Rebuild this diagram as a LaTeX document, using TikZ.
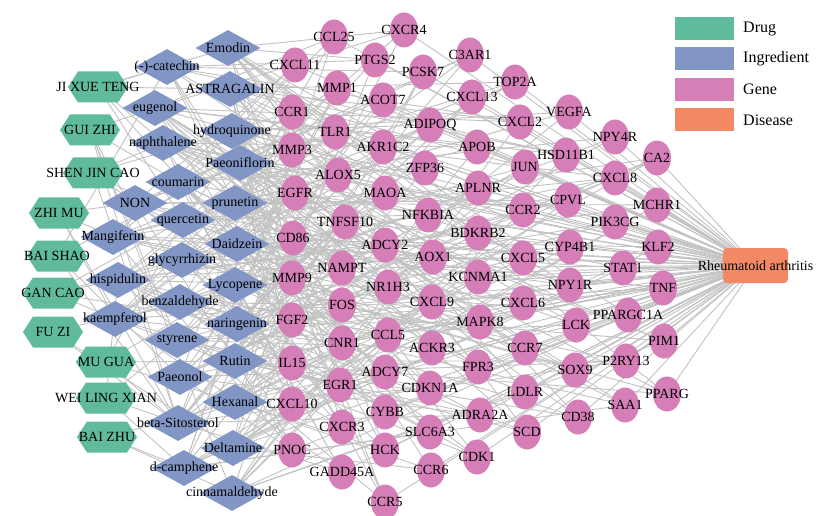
\documentclass[tikz,border=0pt]{standalone}
\usepackage{fontspec}
\setmainfont{Liberation Serif}
\usetikzlibrary{shapes.geometric,backgrounds}
\definecolor{drugc}{HTML}{5FBB9C}
\definecolor{ingc}{HTML}{8196C4}
\definecolor{genec}{HTML}{D57EB7}
\definecolor{disc}{HTML}{F38865}
\definecolor{edgec}{HTML}{C2C2C2}
\newcommand\nodefont{\fontsize{14}{16}\selectfont}
\newcommand\legfont{\fontsize{16}{18}\selectfont}

\begin{document}
\begin{tikzpicture}[x=1pt,y=-1pt,
  every label/.style={font=\nodefont, inner sep=0pt, text=black},
  drug/.style={minimum width=60pt, minimum height=31pt, inner sep=0pt,
    path picture={\fill[drugc] (path picture bounding box.west)
      -- ([xshift=10pt]path picture bounding box.north west)
      -- ([xshift=-10pt]path picture bounding box.north east)
      -- (path picture bounding box.east)
      -- ([xshift=-10pt]path picture bounding box.south east)
      -- ([xshift=10pt]path picture bounding box.south west) -- cycle;}},
  ingr/.style={diamond, fill=ingc, minimum width=65pt, minimum height=36pt, inner sep=0pt},
  gene/.style={ellipse, fill=genec, minimum width=28pt, minimum height=35pt, inner sep=0pt},
  dis/.style={rectangle, rounded corners=4pt, fill=disc, minimum width=65pt, minimum height=35pt, inner sep=0pt},
  legbox/.style={rectangle, minimum width=59pt, minimum height=23pt, inner sep=0pt},
  legtext/.style={font=\legfont, anchor=west, inner sep=0pt},
  link/.style={draw=edgec, line width=0.9pt},
]
\useasboundingbox (0,0) rectangle (817,516);

% herbs
\foreach \n/\x/\y/\t in {
  d1/98/87/JI XUE TENG, d2/90/130/GUI ZHI, d3/93/173/SHEN JIN CAO,
  d4/59/213/ZHI MU, d5/57/256/BAI SHAO, d6/53/293/GAN CAO,
  d7/53/332/FU ZI, d8/106/362/MU GUA, d9/106/398/WEI LING XIAN,
  d10/107/437/BAI ZHU}
  \node[drug, label={center:\t}] (\n) at (\x,\y) {};

% active ingredients
\foreach \n/\x/\y/\t in {
  i1/228/48/Emodin, i2/167/67/{(-)-catechin}, i3/230/89/ASTRAGALIN,
  i4/155/108/eugenol, i5/232/131/hydroquinone, i6/163/143/naphthalene,
  i7/240/163/Paeoniflorin, i8/178/182/coumarin, i9/135/203/NON,
  i10/235/203/prunetin, i11/183/220/quercetin, i12/113/237/Mangiferin,
  i13/237/244/Daidzein, i14/182/260/glycyrrhizin, i15/118/280/hispidulin,
  i16/235/285/Lycopene, i17/180/302/benzaldehyde, i18/115/319/kaempferol,
  i19/237/324/naringenin, i20/177/340/styrene, i21/235/361/Rutin,
  i22/180/377/Paeonol, i23/235/402/Hexanal, i24/178/423/beta-Sitosterol,
  i25/233/448/Deltamine, i26/184/468/d-camphene, i27/232/493/cinnamaldehyde}
  \node[ingr, label={center:\t}] (\n) at (\x,\y) {};

% target genes
\foreach \n/\x/\y/\t in {
  g1/334/37/CCL25, g2/404/30/CXCR4, g3/295/65/CXCL11, g4/375/60/PTGS2,
  g5/470/55/C3AR1, g6/337/88/MMP1, g7/423/72/PCSK7, g8/515/82/TOP2A,
  g9/292/112/CCR1, g10/383/100/ACOT7, g11/472/97/CXCL13, g12/520/122/CXCL2,
  g13/430/125/ADIPOQ, g14/335/132/TLR1, g15/292/150/MMP3, g16/383/147/AKR1C2,
  g17/477/147/APOB, g18/525/167/JUN, g19/425/168/ZFP36, g20/338/175/ALOX5,
  g21/295/193/EGFR, g22/385/193/MAOA, g23/478/188/APLNR, g24/523/210/CCR2,
  g25/428/215/NFKBIA, g26/345/222/TNFSF10, g27/478/233/BDKRB2, g28/293/238/CD86,
  g29/385/245/ADCY2, g30/433/257/AOX1, g31/523/258/CXCL5, g32/342/268/NAMPT,
  g33/292/278/MMP9, g34/478/277/KCNMA1, g35/388/287/NR1H3, g36/432/302/CXCL9,
  g37/342/305/FOS, g38/523/303/CXCL6, g39/292/320/FGF2, g40/480/322/MAPK8,
  g41/342/343/CNR1, g42/388/335/CCL5, g43/432/348/ACKR3, g44/525/348/CCR7,
  g45/292/363/IL15, g46/385/372/ADCY7, g47/478/367/FPR3, g48/340/385/EGR1,
  g49/430/388/CDKN1A, g50/525/392/LDLR, g51/292/404/CXCL10, g52/385/412/CYBB,
  g53/480/415/ADRA2A, g54/342/427/CXCR3, g55/430/432/SLC6A3, g56/527/432/SCD,
  g57/292/450/PNOC, g58/385/450/HCK, g59/477/457/CDK1, g60/342/472/GADD45A,
  g61/431/470/CCR6, g62/385/502/CCR5, g63/569/112/VEGFA, g64/615/137/NPY4R,
  g65/657/158/CA2, g66/566/155/HSD11B1, g67/615/178/CXCL8, g68/568/200/CPVL,
  g69/657/205/MCHR1, g70/615/222/PIK3CG, g71/658/247/KLF2, g72/570/247/CYP4B1,
  g73/623/268/STAT1, g74/570/285/NPY1R, g75/663/288/TNF, g76/576/325/LCK,
  g77/628/315/PPARGC1A, g78/664/341/PIM1, g79/575/370/SOX9, g80/626/361/P2RY13,
  g81/667/394/PPARG, g82/625/405/SAA1, g83/578/417/CD38}
  \node[gene, label={center:\t}] (\n) at (\x,\y) {};

% disease
\node[dis, label={center:Rheumatoid arthritis}] (ra) at (755.5,265.5) {};

% legend
\node[legbox, fill=drugc] (lg1) at (704.5,28.5) {};
\node[legbox, fill=ingc]  (lg2) at (704.5,58.5) {};
\node[legbox, fill=genec] (lg3) at (704.5,89.5) {};
\node[legbox, fill=disc]  (lg4) at (704.5,120) {};
\node[legtext] (lt1) at (743,28.5) {Drug};
\node[legtext] (lt2) at (743,58.5) {Ingredient};
\node[legtext] (lt3) at (743,89.5) {Gene};
\node[legtext] (lt4) at (743,120) {Disease};

% network edges, kept behind the nodes
\begin{pgfonlayer}{background}
  % herb - ingredient
  \foreach \d/\i in {
    d1/i2, d1/i1, d1/i13, d1/i10, d1/i3, d1/i11,
    d2/i4, d2/i8, d2/i17, d2/i20, d2/i27, d2/i24,
    d3/i6, d3/i5, d3/i9, d3/i11, d3/i24,
    d4/i12, d4/i9, d4/i24, d4/i18,
    d5/i7, d5/i22, d5/i2, d5/i24,
    d6/i14, d6/i11, d6/i19, d6/i18, d6/i15,
    d7/i25, d7/i24, d7/i16,
    d8/i21, d8/i16, d8/i23, d8/i11, d8/i24,
    d9/i24, d9/i26, d9/i20, d9/i15,
    d10/i23, d10/i26, d10/i27}
    \draw[link] (\d.center) -- (\i.center);
  % ingredient - gene
  \foreach \k in {1,...,83} {
    \pgfmathtruncatemacro{\a}{mod(7*\k,27)+1}
    \pgfmathtruncatemacro{\b}{mod(11*\k+5,27)+1}
    \pgfmathtruncatemacro{\c}{mod(17*\k+13,27)+1}
    \pgfmathtruncatemacro{\e}{mod(5*\k+20,27)+1}
    \draw[link] (i\a.center) -- (g\k.center)
                (i\b.center) -- (g\k.center)
                (i\c.center) -- (g\k.center)
                (i\e.center) -- (g\k.center);
  }
  % gene - disease
  \foreach \k in {1,...,83}
    \draw[link] (g\k.center) -- (ra.center);
\end{pgfonlayer}
\end{tikzpicture}
\end{document}
